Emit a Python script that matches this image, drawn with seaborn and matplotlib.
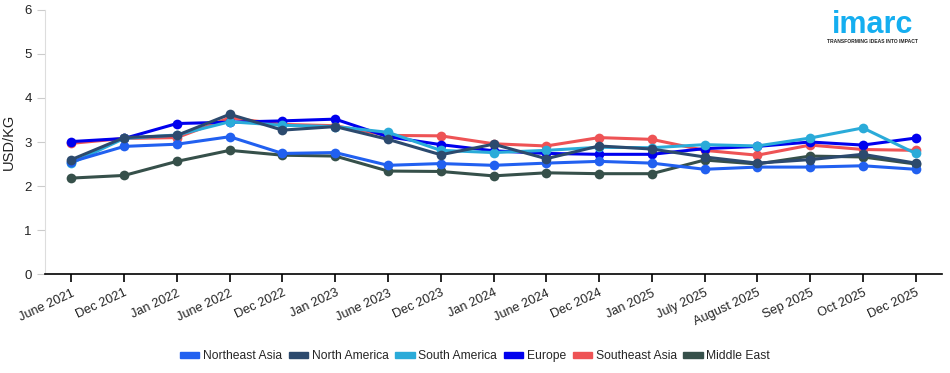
import pandas as pd
import numpy as np
import seaborn as sns
import matplotlib.pyplot as plt

periods = ['June 2021', 'Dec 2021', 'Jan 2022', 'June 2022', 'Dec 2022', 'Jan 2023',
           'June 2023', 'Dec 2023', 'Jan 2024', 'June 2024', 'Dec 2024', 'Jan 2025',
           'July 2025', 'August 2025', 'Sep 2025', 'Oct 2025', 'Dec 2025']

northeast_asia = [2.55, 2.90, 2.95, 3.12, 2.74, 2.76, 2.47, 2.51, 2.47, 2.52, 2.56, 2.52, 2.38, 2.43, 2.43, 2.46, 2.38]
north_america = [2.60, 3.10, 3.15, 3.63, 3.27, 3.35, 3.06, 2.71, 2.95, 2.62, 2.91, 2.84, 2.66, 2.52, 2.60, 2.72, 2.52]
south_america = [2.52, 3.08, 3.16, 3.46, 3.38, 3.35, 3.22, 2.81, 2.76, 2.81, 2.88, 2.87, 2.94, 2.91, 3.09, 3.32, 2.74]
europe = [3.01, 3.08, 3.42, 3.45, 3.48, 3.52, 3.12, 2.94, 2.80, 2.74, 2.72, 2.72, 2.85, 2.90, 3.00, 2.93, 3.09]
southeast_asia = [2.97, 3.08, 3.10, 3.55, 3.40, 3.37, 3.15, 3.14, 2.96, 2.91, 3.10, 3.06, 2.81, 2.70, 2.93, 2.83, 2.81]
middle_east = [2.18, 2.24, 2.56, 2.81, 2.70, 2.68, 2.34, 2.33, 2.23, 2.30, 2.28, 2.28, 2.59, 2.50, 2.68, 2.66, 2.50]

regions = {
    'Northeast Asia': northeast_asia,
    'North America': north_america,
    'South America': south_america,
    'Europe': europe,
    'Southeast Asia': southeast_asia,
    'Middle East': middle_east,
}
palette = {
    'Northeast Asia': '#2160f0',
    'North America': '#2c4a6e',
    'South America': '#2aabd9',
    'Europe': '#0000ee',
    'Southeast Asia': '#ee5355',
    'Middle East': '#36504a',
}
# order the lines are painted in (last on top)
draw_order = ['Southeast Asia', 'Middle East', 'Europe', 'South America', 'Northeast Asia', 'North America']

df = pd.concat([pd.DataFrame({'Period': periods, 'Price': v, 'Region': k}) for k, v in regions.items()])

sns.set_style('white')
plt.rcParams['font.family'] = ['Liberation Sans', 'DejaVu Sans']

fig = plt.figure(figsize=(9.5, 3.73), dpi=100)
ax = fig.add_axes([0.0474, 0.2654, 0.9442, 0.7078])

sns.lineplot(data=df, x='Period', y='Price', hue='Region', hue_order=draw_order, palette=palette,
             sort=False, marker='o', markersize=7, markeredgewidth=0, linewidth=2.2, ax=ax, legend=False)

ax.set_xlim(-0.5, len(periods) - 0.5)
ax.set_ylim(0, 6)
ax.set_yticks(range(0, 7))
ax.set_xlabel('')
ax.set_ylabel('USD/KG', fontsize=10.5, color='#222222')
ax.yaxis.set_label_coords(-0.033, 0.5)

for s in ['top', 'right']:
    ax.spines[s].set_visible(False)
ax.spines['left'].set_color('#dddddd')
ax.spines['bottom'].set_color('#000000')
ax.spines['bottom'].set_linewidth(1.2)

ax.tick_params(axis='y', length=6, color='#cccccc', labelsize=9.5, labelcolor='#222222', left=True)
ax.tick_params(axis='x', length=6, color='#000000', width=1.2, labelsize=9.2, labelcolor='#222222', bottom=True)
plt.setp(ax.get_xticklabels(), rotation=25, ha='right', rotation_mode='anchor')

labels = list(regions.keys())
patches = [plt.Rectangle((0, 0), 1, 1, color=palette[l]) for l in labels]
fig.legend(patches, labels, loc='center', bbox_to_anchor=(0.5, 0.045), ncol=6, frameon=False,
           fontsize=8.7, handlelength=1.6, handleheight=0.45, handletextpad=0.3, columnspacing=0.55)

fig.text(0.918, 0.911, 'imarc', color='#14aef0', fontsize=22, fontweight='bold', ha='center', va='baseline')
fig.text(0.918, 0.888, 'TRANSFORMING IDEAS INTO IMPACT', color='#222222', fontsize=3.6,
         fontweight='bold', ha='center', va='center')

fig.savefig('out.png', dpi=100)
